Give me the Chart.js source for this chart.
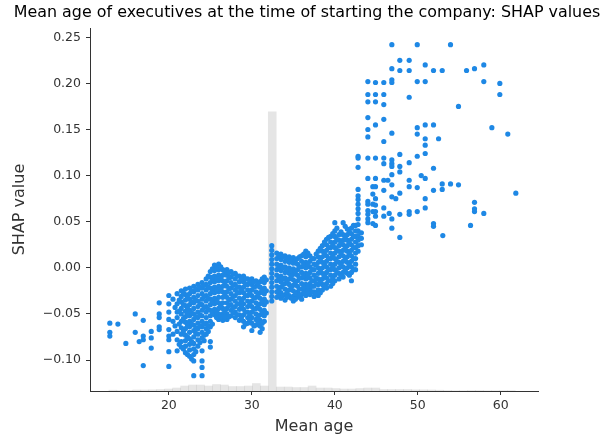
<!DOCTYPE html>
<html>
<head>
<meta charset="utf-8">
<script src="https://cdn.jsdelivr.net/npm/chart.js@4.4.1/dist/chart.umd.min.js"></script>
<style>
    html, body { margin: 0; padding: 0; background: #ffffff; }
    #wrap { width: 611px; height: 439px; }
</style>
</head>
<body>
<div id="wrap"><canvas id="shapChart" width="611" height="439"></canvas></div>
<script>
const chartTitle = 'Mean age of executives at the time of starting the company: SHAP values';
const xLabel = 'Mean age';
const yLabel = 'SHAP value';

const ageTicks = [20, 30, 40, 50, 60];
const shapTicks = [-0.10, -0.05, 0.00, 0.05, 0.10, 0.15, 0.20, 0.25];

// dense vertical stripes (one mean age, many SHAP values)
const stripeAges = [20.0, 20.5, 21.0, 21.5, 22.0, 22.5, 23.0, 23.5, 24.0, 24.5, 25.0, 25.5, 26.0, 26.5,
    27.0, 27.5, 28.0, 28.5, 29.0, 29.5, 30.0, 30.5, 31.0, 31.5, 32.4, 33.0, 33.5, 34.0, 34.5, 35.0,
    35.5, 36.0, 36.5, 37.0, 37.5, 38.0, 38.5, 39.0, 39.5, 40.0, 40.5, 41.0, 41.5, 42.0, 42.5, 42.8, 43.2];
const stripeShap = [
    [-0.030, -0.039, -0.048, -0.056, -0.067, -0.074, -0.078, -0.091, -0.107],
    [-0.034, -0.058, -0.072],
    [-0.028, -0.039, -0.048, -0.054, -0.069, -0.078, -0.090],
    [-0.025, -0.031, -0.037, -0.044, -0.050, -0.058, -0.065, -0.072, -0.080, -0.086],
    [-0.023, -0.029, -0.035, -0.041, -0.047, -0.053, -0.059, -0.066, -0.073, -0.079, -0.085, -0.092],
    [-0.022, -0.028, -0.034, -0.040, -0.046, -0.052, -0.058, -0.064, -0.070, -0.077, -0.083, -0.089, -0.096],
    [-0.020, -0.026, -0.032, -0.038, -0.044, -0.050, -0.056, -0.062, -0.068, -0.075, -0.082, -0.088, -0.094, -0.101, -0.117],
    [-0.018, -0.024, -0.030, -0.036, -0.042, -0.048, -0.054, -0.060, -0.066, -0.072, -0.078, -0.085],
    [-0.016, -0.022, -0.028, -0.034, -0.040, -0.046, -0.052, -0.058, -0.064, -0.070, -0.076, -0.090, -0.101, -0.108, -0.117],
    [-0.012, -0.018, -0.024, -0.030, -0.036, -0.042, -0.048, -0.054, -0.060, -0.066, -0.072],
    [-0.004, -0.010, -0.016, -0.022, -0.028, -0.034, -0.040, -0.046, -0.052, -0.058, -0.064, -0.080, -0.086],
    [0.003, -0.003, -0.009, -0.015, -0.021, -0.027, -0.033, -0.039, -0.045, -0.051],
    [0.004, -0.002, -0.008, -0.014, -0.020, -0.026, -0.032, -0.038, -0.044, -0.050, -0.056],
    [-0.002, -0.008, -0.014, -0.020, -0.026, -0.032, -0.038, -0.044, -0.050, -0.057],
    [-0.002, -0.008, -0.014, -0.020, -0.026, -0.032, -0.038, -0.044, -0.050, -0.056],
    [-0.004, -0.010, -0.016, -0.022, -0.028, -0.034, -0.040, -0.046, -0.052],
    [-0.006, -0.012, -0.018, -0.024, -0.030, -0.036, -0.042, -0.048, -0.054],
    [-0.009, -0.015, -0.021, -0.027, -0.033, -0.039, -0.045, -0.051, -0.057],
    [-0.009, -0.015, -0.021, -0.027, -0.033, -0.039, -0.045, -0.051, -0.058, -0.064],
    [-0.012, -0.018, -0.024, -0.030, -0.036, -0.042, -0.048, -0.054, -0.060],
    [-0.012, -0.018, -0.024, -0.030, -0.036, -0.042, -0.048, -0.054, -0.060, -0.068],
    [-0.014, -0.020, -0.026, -0.032, -0.038, -0.044, -0.050, -0.056, -0.062],
    [-0.015, -0.021, -0.027, -0.033, -0.039, -0.045, -0.051, -0.057, -0.063, -0.070],
    [-0.010, -0.016, -0.022, -0.028, -0.034, -0.040, -0.046, -0.052, -0.058],
    [0.024, 0.019, 0.014, 0.009, 0.004, -0.001, -0.006, -0.011, -0.016, -0.021, -0.026, -0.031, -0.036],
    [0.016, 0.010, 0.004, -0.002, -0.008, -0.014, -0.020, -0.026, -0.032],
    [0.015, 0.009, 0.003, -0.003, -0.009, -0.015, -0.021, -0.027, -0.033],
    [0.013, 0.007, 0.001, -0.005, -0.011, -0.017, -0.023, -0.029, -0.035],
    [0.012, 0.006, 0.000, -0.006, -0.012, -0.018, -0.024, -0.030],
    [0.011, 0.005, -0.001, -0.007, -0.013, -0.019, -0.025, -0.031, -0.036],
    [0.010, 0.004, -0.002, -0.008, -0.014, -0.020, -0.026, -0.032],
    [0.013, 0.007, 0.001, -0.005, -0.011, -0.017, -0.023, -0.029, -0.034],
    [0.018, 0.012, 0.006, 0.000, -0.006, -0.012, -0.018, -0.024, -0.030],
    [0.013, 0.007, 0.001, -0.005, -0.011, -0.017, -0.023, -0.029],
    [0.010, 0.004, -0.002, -0.008, -0.014, -0.020, -0.026, -0.031],
    [0.018, 0.012, 0.006, 0.000, -0.006, -0.012, -0.018, -0.024, -0.030],
    [0.024, 0.018, 0.012, 0.006, 0.000, -0.006, -0.012, -0.018, -0.024],
    [0.031, 0.025, 0.019, 0.013, 0.007, 0.001, -0.005, -0.011, -0.017, -0.022],
    [0.034, 0.028, 0.022, 0.016, 0.010, 0.004, -0.002, -0.008, -0.014, -0.020],
    [0.049, 0.040, 0.034, 0.028, 0.022, 0.016, 0.010, 0.004, -0.002, -0.008, -0.014],
    [0.036, 0.030, 0.024, 0.018, 0.012, 0.006, 0.000, -0.006, -0.012],
    [0.049, 0.036, 0.030, 0.025, 0.019, 0.013, 0.007, 0.001, -0.005, -0.010],
    [0.042, 0.036, 0.030, 0.024, 0.018, 0.012, 0.006, 0.000, -0.006],
    [0.043, 0.037, 0.031, 0.025, 0.019, 0.013, 0.007, 0.001, -0.005, -0.014],
    [0.046, 0.040, 0.034, 0.028, 0.022, 0.016, 0.010, 0.004, -0.002],
    [0.121, 0.119, 0.109, 0.085, 0.078, 0.074, 0.069, 0.064, 0.059, 0.053, 0.047, 0.040, 0.035, 0.030, 0.024, 0.018],
    [0.038, 0.032, 0.025]
];

// in-between ages inside the dense band
const fillAges = [20.75, 21.25, 21.75, 22.25, 22.75, 23.25, 23.75, 24.25, 24.75, 25.25, 25.75, 26.25,
    26.75, 27.25, 27.75, 28.25, 28.75, 29.25, 29.75, 30.25, 30.75, 31.25, 31.75, 33.25, 33.75, 34.25,
    34.75, 35.25, 35.75, 36.25, 36.75, 37.25, 37.75, 38.25, 38.75, 39.25, 39.75, 40.25, 40.75, 41.25,
    41.75, 42.25];
const fillShap = [
    [-0.043, -0.063],
    [-0.035, -0.047, -0.061, -0.083],
    [-0.027, -0.040, -0.055, -0.069, -0.088],
    [-0.032, -0.044, -0.050, -0.062, -0.075, -0.094],
    [-0.025, -0.037, -0.049, -0.061, -0.080, -0.099],
    [-0.023, -0.035, -0.053, -0.065, -0.071, -0.091],
    [-0.021, -0.039, -0.051, -0.063, -0.081],
    [-0.019, -0.031, -0.043, -0.061, -0.073, -0.079],
    [-0.009, -0.021, -0.033, -0.045, -0.063, -0.069],
    [-0.001, -0.013, -0.025, -0.037, -0.049, -0.061],
    [0.000, -0.012, -0.024, -0.036, -0.048, -0.054],
    [0.001, -0.011, -0.023, -0.041, -0.053],
    [-0.005, -0.017, -0.029, -0.047, -0.053],
    [-0.005, -0.011, -0.023, -0.035, -0.041, -0.053],
    [-0.007, -0.019, -0.031, -0.043, -0.049],
    [-0.009, -0.021, -0.027, -0.039, -0.051],
    [-0.012, -0.024, -0.036, -0.042, -0.054],
    [-0.012, -0.018, -0.030, -0.048, -0.061],
    [-0.015, -0.027, -0.039, -0.051, -0.057],
    [-0.015, -0.021, -0.033, -0.045, -0.063],
    [-0.017, -0.029, -0.041, -0.053, -0.059],
    [-0.012, -0.024, -0.036, -0.048, -0.060, -0.066],
    [-0.013, -0.025, -0.037, -0.049],
    [0.013, 0.001, -0.011, -0.023, -0.029],
    [0.012, 0.000, -0.012, -0.018, -0.030],
    [0.010, -0.002, -0.014, -0.026, -0.032],
    [0.009, -0.003, -0.009, -0.021, -0.033],
    [0.008, -0.004, -0.016, -0.028, -0.034],
    [0.012, 0.001, -0.011, -0.023, -0.029],
    [0.015, 0.003, -0.009, -0.021, -0.027],
    [0.016, 0.004, -0.008, -0.020, -0.026],
    [0.010, -0.002, -0.014, -0.020, -0.026],
    [0.015, 0.003, -0.011, -0.017, -0.028],
    [0.021, 0.009, -0.003, -0.015, -0.027],
    [0.028, 0.015, 0.003, -0.009, -0.021],
    [0.033, 0.022, 0.010, -0.002, -0.014],
    [0.037, 0.025, 0.013, 0.001, -0.011, -0.017],
    [0.043, 0.031, 0.019, 0.007, -0.005],
    [0.039, 0.027, 0.015, 0.003, -0.009],
    [0.045, 0.033, 0.021, 0.009, -0.003],
    [0.039, 0.027, 0.015, 0.003, -0.008],
    [0.046, 0.034, 0.022, 0.010, -0.002]
];

// young founders, left tail
const youngPoints = [
    [12.89, -0.060], [12.89, -0.070], [12.89, -0.074], [13.86, -0.061], [14.82, -0.082],
    [15.95, -0.050], [15.95, -0.070], [16.43, -0.080], [16.92, -0.057], [16.92, -0.074],
    [16.92, -0.078], [16.92, -0.106], [17.88, -0.069], [17.88, -0.076], [17.88, -0.087],
    [18.84, -0.038], [18.84, -0.050], [18.84, -0.054], [18.84, -0.064], [18.84, -0.067]
];

// older founders, scattered upper right
const olderPoints = [
    [46.87, 0.242], [49.93, 0.242], [53.94, 0.242], [47.83, 0.225], [48.96, 0.225],
    [46.87, 0.216], [47.83, 0.214], [48.96, 0.214], [50.89, 0.220], [51.89, 0.214], [52.94, 0.214],
    [55.87, 0.214], [56.83, 0.216], [57.95, 0.220],
    [43.98, 0.202], [44.90, 0.201], [45.90, 0.201], [46.87, 0.204], [46.87, 0.201], [49.93, 0.202],
    [50.89, 0.202], [57.95, 0.202], [59.88, 0.200],
    [43.98, 0.188], [44.90, 0.188], [45.90, 0.188], [48.96, 0.185], [59.88, 0.188],
    [43.98, 0.180], [44.90, 0.180], [45.90, 0.177], [54.90, 0.175],
    [43.98, 0.163], [45.90, 0.161], [44.90, 0.155], [43.98, 0.150], [46.87, 0.146], [43.98, 0.142], [45.90, 0.137],
    [49.93, 0.152], [50.89, 0.155], [51.89, 0.155], [49.93, 0.145], [50.89, 0.140], [52.50, 0.140],
    [50.89, 0.133], [50.89, 0.124], [49.93, 0.121], [47.83, 0.123], [58.92, 0.152], [60.84, 0.145],
    [43.98, 0.119], [44.90, 0.119], [45.90, 0.119], [46.87, 0.117],
    [45.90, 0.113], [46.87, 0.113], [46.87, 0.110], [47.83, 0.110], [47.83, 0.104], [48.96, 0.114],
    [51.89, 0.108], [46.87, 0.101],
    [43.98, 0.097], [44.90, 0.097], [45.90, 0.095], [46.39, 0.095], [48.96, 0.095], [50.41, 0.100], [50.89, 0.097],
    [46.87, 0.090], [48.96, 0.088], [49.93, 0.087], [44.58, 0.088], [44.90, 0.088],
    [45.90, 0.084], [51.89, 0.084], [52.94, 0.091], [52.94, 0.085], [53.94, 0.091], [54.90, 0.090],
    [47.83, 0.081], [46.87, 0.077], [47.35, 0.075], [44.58, 0.080], [44.90, 0.075],
    [43.98, 0.072], [43.98, 0.069], [44.58, 0.069], [44.90, 0.068],
    [45.90, 0.065], [50.89, 0.075], [50.89, 0.065], [49.93, 0.061], [48.96, 0.061], [48.96, 0.058], [47.83, 0.058],
    [43.98, 0.062], [43.98, 0.058], [44.58, 0.061], [44.90, 0.061], [44.90, 0.056], [45.90, 0.056],
    [46.87, 0.053], [46.55, 0.059],
    [43.98, 0.053], [43.98, 0.049], [44.58, 0.048], [44.90, 0.046], [46.87, 0.043],
    [51.89, 0.048], [51.89, 0.045], [53.01, 0.035], [47.83, 0.033],
    [61.81, 0.081], [56.83, 0.071], [56.83, 0.064], [56.83, 0.061], [57.95, 0.059], [56.35, 0.046]
];

// feature histogram (bin centre, share of samples in %)
const histAges = [13.26, 14.22, 15.18, 16.14, 17.10, 18.06, 19.02, 19.98, 20.94, 21.90, 22.86, 23.82,
    24.78, 25.74, 26.70, 27.66, 28.62, 29.58, 30.54, 31.50, 32.46, 33.42, 34.38, 35.34, 36.30, 37.26,
    38.22, 39.18, 40.14, 41.10, 42.06, 43.02, 43.98, 44.94, 45.90, 46.86, 47.82, 48.78, 49.74, 50.70,
    51.66, 52.62, 53.58, 54.54, 55.50, 56.46, 57.42, 58.38, 59.34, 60.30, 61.26];
const histShare = [0.22, 0.14, 0.14, 0.28, 0.28, 0.33, 0.41, 0.55, 0.83, 1.38, 1.65, 1.65,
    1.38, 1.79, 1.65, 1.24, 1.24, 1.38, 2.07, 1.38, 76.9, 1.10, 1.10, 0.96, 0.96, 1.38,
    0.83, 0.83, 0.69, 0.55, 0.55, 0.69, 0.83, 0.83, 0.41, 0.41, 0.41, 0.41, 0.33, 0.33,
    0.28, 0.22, 0.14, 0.08, 0.08, 0.14, 0.14, 0.08, 0.08, 0.08, 0.08];

const points = [];
stripeAges.forEach((age, i) => {
    stripeShap[i].forEach(v => points.push({ x: age, y: v }));
});
fillAges.forEach((age, i) => {
    fillShap[i].forEach(v => points.push({ x: age, y: v }));
});
youngPoints.concat(olderPoints).forEach(p => points.push({ x: p[0], y: p[1] }));

const histData = histAges.map((age, i) => ({ x: age, y: histShare[i] }));

function tickText(v) {
    return v < 0 ? '\u2212' + Math.abs(v).toFixed(2) : v.toFixed(2);
}

const labelsPlugin = {
    id: 'labelsPlugin',
    afterDraw(chart) {
        const ctx = chart.ctx;
        const area = chart.chartArea;
        ctx.save();
        ctx.textAlign = 'center';
        ctx.textBaseline = 'middle';
        ctx.fillStyle = '#000000';
        ctx.font = '15.9px "DejaVu Sans"';
        ctx.fillText(chartTitle, 307, 13);
        ctx.fillStyle = '#333333';
        ctx.font = '16px "DejaVu Sans"';
        ctx.fillText(xLabel, (area.left + area.right) / 2, 427);
        ctx.translate(20, (area.top + area.bottom) / 2);
        ctx.rotate(-Math.PI / 2);
        ctx.fillText(yLabel, 0, 0);
        ctx.restore();
    }
};

const ctx = document.getElementById('shapChart').getContext('2d');
new Chart(ctx, {
    type: 'scatter',
    data: {
        datasets: [
            {
                type: 'scatter',
                data: points,
                backgroundColor: '#1E88E5',
                borderWidth: 0,
                pointRadius: 2.6,
                order: 1
            },
            {
                type: 'bar',
                data: histData,
                yAxisID: 'yHist',
                backgroundColor: 'rgba(0, 0, 0, 0.1)',
                borderWidth: 0,
                barPercentage: 1,
                categoryPercentage: 1,
                order: 2
            }
        ]
    },
    options: {
        responsive: false,
        animation: false,
        events: [],
        layout: { padding: { top: 28, right: 73, left: 0, bottom: 0 } },
        plugins: {
            legend: { display: false },
            tooltip: { enabled: false },
            title: { display: false }
        },
        scales: {
            x: {
                type: 'linear',
                position: 'bottom',
                offset: false,
                min: 10.5,
                max: 64.48,
                afterFit: scale => { scale.height = 48; },
                afterBuildTicks: scale => { scale.ticks = ageTicks.map(v => ({ value: v })); },
                grid: { display: true, offset: false, drawOnChartArea: false, drawTicks: true, tickLength: 4, color: '#333333' },
                border: { display: true, color: '#333333', width: 1 },
                ticks: {
                    color: '#333333',
                    padding: 3,
                    font: { family: 'DejaVu Sans', size: 12.5 },
                    callback: v => String(v)
                }
            },
            y: {
                type: 'linear',
                position: 'left',
                min: -0.1336,
                max: 0.2601,
                afterFit: scale => { scale.width = 90; },
                afterBuildTicks: scale => { scale.ticks = shapTicks.map(v => ({ value: v })); },
                grid: { display: true, drawOnChartArea: false, drawTicks: true, tickLength: 4, color: '#333333' },
                border: { display: true, color: '#333333', width: 1 },
                ticks: {
                    color: '#333333',
                    padding: 5,
                    font: { family: 'DejaVu Sans', size: 12.5 },
                    callback: v => tickText(v)
                }
            },
            yHist: {
                type: 'linear',
                display: false,
                min: 0,
                max: 100
            }
        }
    },
    plugins: [labelsPlugin]
});
</script>
</body>
</html>
